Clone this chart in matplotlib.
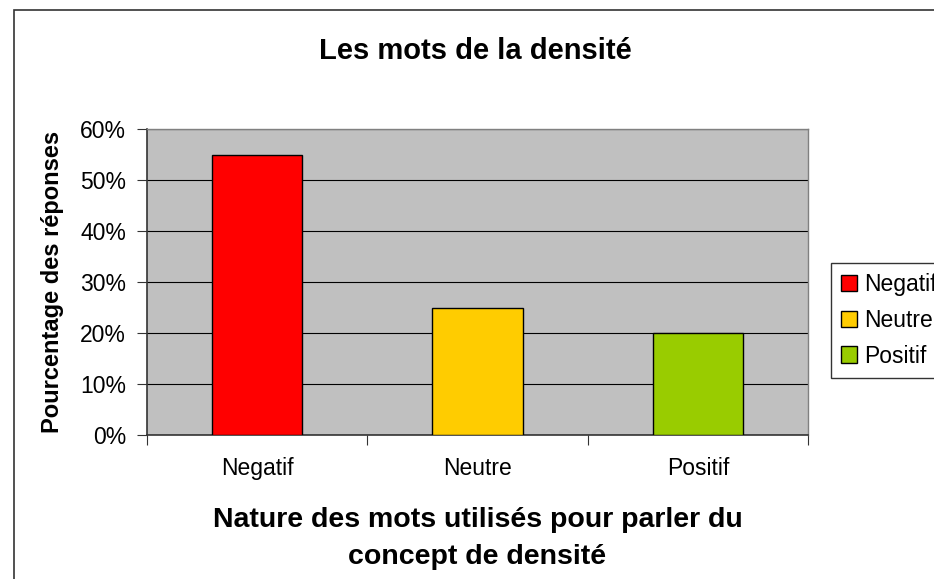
import matplotlib
matplotlib.use("Agg")
import matplotlib.pyplot as plt
from matplotlib.patches import Rectangle
from matplotlib.ticker import FixedLocator

categories = ["Negatif", "Neutre", "Positif"]
values = [0.55, 0.25, 0.20]
colors = ["#FF0000", "#FFCC00", "#99CC00"]
yticks = [0, 0.1, 0.2, 0.3, 0.4, 0.5, 0.6]
ytick_labels = ["0%", "10%", "20%", "30%", "40%", "50%", "60%"]

plt.rcParams["font.family"] = ["Liberation Sans", "DejaVu Sans"]

W, H = 934, 579
fig = plt.figure(figsize=(W / 100, H / 100), dpi=100)
fig.patch.set_facecolor("white")

# outer chart border (cut off at right/bottom)
fig.add_artist(Rectangle((14 / W, -0.1), 1.2, (H - 10) / H + 0.1, transform=fig.transFigure,
                         fill=False, edgecolor="#333333", linewidth=1.2))

ax = fig.add_axes([147 / W, 1 - 435 / H, (808 - 147) / W, (435 - 129) / H])
ax.set_facecolor("#C0C0C0")
x = list(range(len(categories)))
ax.bar(x, values, width=0.41, color=colors, edgecolor="black", linewidth=1.0, zorder=3)
ax.set_xlim(-0.5, 2.5)
ax.set_ylim(0, 0.6)
ax.set_yticks(yticks)
ax.set_yticklabels(ytick_labels, fontsize=16.5)
ax.yaxis.grid(True, color="black", linewidth=0.8, zorder=1)
ax.set_axisbelow(True)
ax.xaxis.set_major_locator(FixedLocator([-0.5, 0.5, 1.5, 2.5]))
ax.set_xticklabels([])
ax.xaxis.set_minor_locator(FixedLocator(x))
ax.set_xticklabels(categories, minor=True, fontsize=16.5)
ax.tick_params(axis="x", which="minor", length=0, pad=15.5)
ax.tick_params(axis="x", which="major", length=7, direction="out", color="#333333")
ax.tick_params(axis="y", length=7, direction="out", color="#333333", pad=8)
for s in ["top", "right"]:
    ax.spines[s].set_color("#808080")
    ax.spines[s].set_linewidth(1.0)
for s in ["left", "bottom"]:
    ax.spines[s].set_color("#333333")
    ax.spines[s].set_linewidth(1.2)

ax.set_ylabel("Pourcentage des réponses", fontsize=17, fontweight="bold")
ax.yaxis.set_label_coords(-(147 - 52) / (808 - 147), 0.5)
ax.yaxis.label.set_va("center")
ax.set_xlabel("Nature des mots utilisés pour parler du\nconcept de densité", fontsize=20.5,
              fontweight="bold", linespacing=1.55)
ax.xaxis.set_label_coords(0.5, -(538.5 - 435) / (435 - 129))
ax.xaxis.label.set_va("center")

fig.text(475 / W, 1 - 51 / H, "Les mots de la densité", ha="center", va="center",
         fontsize=21, fontweight="bold")

handles = [Rectangle((0, 0), 1, 1, facecolor=c, edgecolor="black", linewidth=1.0) for c in colors]
leg = fig.legend(handles, categories, loc="upper left", bbox_to_anchor=(831 / W, 1 - 263 / H),
                 frameon=True, fontsize=16.5, handlelength=0.7, handleheight=0.7,
                 handletextpad=0.3, labelspacing=0.55, borderpad=0.45, fancybox=False,
                 edgecolor="black", borderaxespad=0)
leg.get_frame().set_linewidth(1.0)

fig.savefig("out.png", dpi=100, facecolor="white")
